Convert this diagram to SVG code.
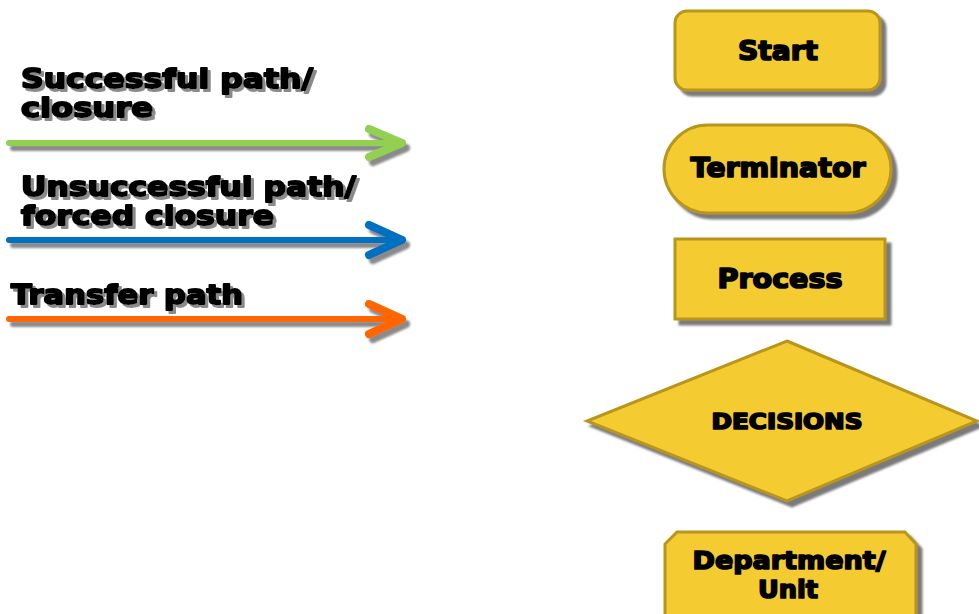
<svg xmlns="http://www.w3.org/2000/svg" width="979" height="614" viewBox="0 0 979 614">
  <defs>
    <filter id="shadow" x="-10%" y="-10%" width="130%" height="140%">
      <feDropShadow dx="5" dy="5" stdDeviation="1" flood-color="#7a7a7a" flood-opacity="1"/>
    </filter>
    <filter id="tshadow" x="-5%" y="-20%" width="115%" height="160%">
      <feDropShadow dx="3" dy="3" stdDeviation="0.6" flood-color="#8a8a8a" flood-opacity="1"/>
    </filter>
    <filter id="lshadow" x="-5%" y="-100%" width="115%" height="400%">
      <feDropShadow dx="4" dy="5" stdDeviation="1" flood-color="#8a8a8a" flood-opacity="1"/>
    </filter>
  </defs>
  <style>
    .shape { fill: #F4CC30; stroke: #B8961C; stroke-width: 3; filter: url(#shadow); }
    .lbl { font-family: "DejaVu Sans", "Liberation Sans", sans-serif; font-weight: bold; fill: #000; stroke: #000; stroke-width: 1.7; stroke-linejoin: round; }
    .legend { font-family: "DejaVu Sans", "Liberation Sans", sans-serif; font-weight: bold; font-size: 26px; fill: #000; stroke: #000; stroke-width: 1.8; stroke-linejoin: round; filter: url(#tshadow); }
    .line { fill: none; stroke-width: 6; stroke-linecap: round; stroke-linejoin: round; filter: url(#lshadow); }
    .head { fill: none; stroke-width: 8; stroke-linecap: round; stroke-linejoin: round; }
  </style>

  <!-- legend connectors -->
  <g id="connectors">
    <g class="line" stroke="#92D050">
      <path d="M9,143 H400"/>
      <path class="head" d="M369,129 L402,143 L369,157"/>
    </g>
    <g class="line" stroke="#0070C0">
      <path d="M9,240 H400"/>
      <path class="head" d="M369,225 L402,240 L369,255"/>
    </g>
    <g class="line" stroke="#FF6600">
      <path d="M9,319 H400"/>
      <path class="head" d="M369,304 L402,319 L369,334"/>
    </g>
  </g>

  <!-- legend labels -->
  <g id="legend-labels">
    <text class="legend" x="21" y="88" textLength="292" lengthAdjust="spacingAndGlyphs">Successful path/</text>
    <text class="legend" x="21" y="117" textLength="132" lengthAdjust="spacingAndGlyphs">closure</text>
    <text class="legend" x="21" y="196" textLength="335" lengthAdjust="spacingAndGlyphs">Unsuccessful path/</text>
    <text class="legend" x="21" y="225" textLength="253" lengthAdjust="spacingAndGlyphs">forced closure</text>
    <text class="legend" x="11" y="304" textLength="232" lengthAdjust="spacingAndGlyphs">Transfer path</text>
  </g>

  <g id="start">
    <rect class="shape" x="675" y="11" width="205" height="79" rx="12" ry="12"/>
    <text class="lbl" x="778" y="60" font-size="26" text-anchor="middle" textLength="80" lengthAdjust="spacingAndGlyphs">Start</text>
  </g>

  <g id="terminator">
    <rect class="shape" x="664" y="125" width="227" height="88" rx="44" ry="44"/>
    <text class="lbl" x="778" y="177" font-size="26" text-anchor="middle" textLength="175" lengthAdjust="spacingAndGlyphs">Terminator</text>
  </g>

  <g id="process">
    <rect class="shape" x="675" y="239" width="210" height="80"/>
    <text class="lbl" x="780" y="288" font-size="26" text-anchor="middle" textLength="125" lengthAdjust="spacingAndGlyphs">Process</text>
  </g>

  <g id="decisions">
    <polygon class="shape" points="787,341 977,421 787,501 587,421"/>
    <text class="lbl" x="787" y="429" font-size="21" text-anchor="middle" textLength="151" lengthAdjust="spacingAndGlyphs">DECISIONS</text>
  </g>

  <g id="department">
    <polygon class="shape" points="677,532 905,532 916,544 916,630 665,630 665,544"/>
    <text class="lbl" x="789" y="569" font-size="25" text-anchor="middle" textLength="193" lengthAdjust="spacingAndGlyphs">Department/</text>
    <text class="lbl" x="788" y="598" font-size="25" text-anchor="middle" textLength="60" lengthAdjust="spacingAndGlyphs">Unit</text>
  </g>
</svg>
